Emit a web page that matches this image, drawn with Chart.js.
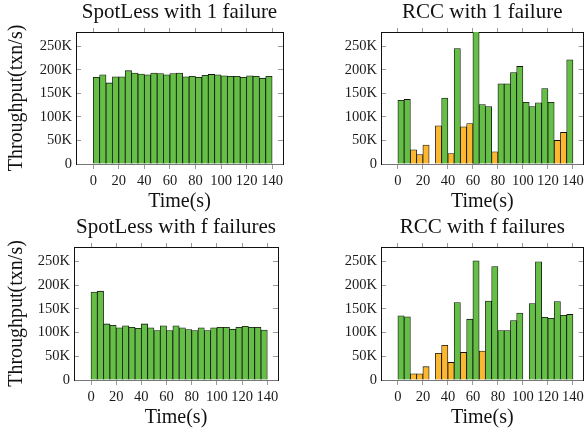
<!DOCTYPE html>
<html>
<head>
<meta charset="utf-8">
<script src="https://cdn.jsdelivr.net/npm/chart.js@4.4.1/dist/chart.umd.min.js"></script>
<style>
  body { margin: 0; background: #fff; width: 587px; height: 434px; overflow: hidden; position: relative; }
  .box { position: absolute; }
</style>
</head>
<body>
<div class="box" style="left:0px;top:0px;width:290px;height:214px"><canvas id="c1"></canvas></div>
<div class="box" style="left:311px;top:0px;width:276px;height:214px"><canvas id="c2"></canvas></div>
<div class="box" style="left:0px;top:215px;width:285px;height:215px"><canvas id="c3"></canvas></div>
<div class="box" style="left:311px;top:215px;width:276px;height:215px"><canvas id="c4"></canvas></div>

<script>
// start of each 5 s bin
const binStart = [0, 5, 10, 15, 20, 25, 30, 35, 40, 45, 50, 55, 60, 65, 70, 75, 80, 85, 90, 95, 100, 105, 110, 115, 120, 125, 130, 135];
const xTicks = [0, 20, 40, 60, 80, 100, 120, 140];
const yTicks = [0, 50, 100, 150, 200, 250];   // thousands of txn/s

// throughput in K txn/s, green = normal, orange = view change
const spot1 = [184, 189, 172, 185, 185, 198, 193, 191, 189, 193, 192, 189, 192, 193, 185, 186, 184, 188, 190, 189, 187, 186, 186, 184, 187, 186, 182, 186];
const rcc1Green = [135, 137, null, null, null, null, null, 140, null, 245, null, null, 300, 126, 122, null, 170, 170, 194, 207, 131, 122, 130, 160, 131, null, null, 221];
const rcc1Orange = [null, null, 30, 20, 40, null, 81, null, 22, null, 79, 86, null, null, null, 26, null, null, null, null, null, null, null, null, null, 50, 67, null];
const spotF = [185, 187, 118, 115, 110, 114, 111, 109, 118, 110, 104, 114, 104, 114, 110, 106, 104, 110, 104, 110, 111, 111, 107, 111, 113, 111, 111, 105];
const rccFGreen = [135, 133, null, null, null, null, null, null, null, 163, null, 128, 251, null, 166, 239, 104, 104, 125, 141, null, 161, 249, 132, 130, 165, 136, 138];
const rccFOrange = [null, null, 13, 13, 28, null, 56, 73, 37, null, 58, null, null, 61, null, null, null, null, null, null, null, null, null, null, null, null, null, null];

const GREEN = '#65be46';
const ORANGE = '#fbb730';
const TICK = '#9a9a9a';

function barSet(vals, color) {
  return {
    data: binStart.map((t, i) => ({ x: t + 2.5, y: vals[i] })),
    backgroundColor: color,
    borderColor: '#111',
    borderWidth: 0.8,
    barPercentage: 1,
    categoryPercentage: 1,
    grouped: false
  };
}

function makePanel(id, title, datasets, yWidth, showYTitle, padRight) {
  const scales = {
    x: {
      type: 'linear', position: 'bottom', min: -13.5, max: 148.5, offset: false,
      afterBuildTicks: s => { s.ticks = xTicks.map(v => ({ value: v })); },
      afterFit: s => { s.height = 50; },
      grid: { offset: false, drawOnChartArea: false, tickLength: 5, color: TICK },
      border: { color: '#777', width: 1 },
      ticks: { font: { family: 'Liberation Serif', size: 14.5 }, color: '#1a1a1a', padding: 3, maxRotation: 0, autoSkip: false, callback: v => String(v) },
      title: { display: true, text: 'Time(s)', color: '#111', font: { family: 'Liberation Serif', size: 20 }, padding: { top: 0, bottom: 0 } }
    },
    x2: {
      type: 'linear', position: 'top', min: -13.5, max: 148.5, offset: false,
      afterBuildTicks: s => { s.ticks = xTicks.map(v => ({ value: v })); },
      afterFit: s => { s.height = 0; },
      grid: { offset: false, drawOnChartArea: false, tickLength: 4, color: TICK },
      border: { color: '#111', width: 1 },
      ticks: { display: false }
    },
    y: {
      type: 'linear', position: 'left', min: 0, max: 280,
      afterBuildTicks: s => { s.ticks = yTicks.map(v => ({ value: v })); },
      afterFit: s => { s.width = yWidth; },
      grid: { drawOnChartArea: false, tickLength: -5, color: TICK },
      border: { color: '#111', width: 1 },
      ticks: { font: { family: 'Liberation Serif', size: 14.5 }, color: '#1a1a1a', padding: 9, callback: v => v === 0 ? '0' : v + 'K' },
      title: { display: showYTitle, text: 'Throughput(txn/s)', color: '#111', font: { family: 'Liberation Serif', size: 20 }, padding: { top: 5, bottom: 0 } }
    },
    y2: {
      type: 'linear', position: 'right', min: 0, max: 280,
      afterBuildTicks: s => { s.ticks = yTicks.map(v => ({ value: v })); },
      afterFit: s => { s.width = 0; },
      grid: { drawOnChartArea: false, tickLength: -5, color: TICK },
      border: { color: '#111', width: 1 },
      ticks: { display: false }
    }
  };
  new Chart(document.getElementById(id), {
    type: 'bar',
    data: { datasets: datasets },
    options: {
      responsive: true,
      animation: false,
      maintainAspectRatio: false,
      layout: { padding: { top: 0, right: padRight, left: 0, bottom: 0 } },
      plugins: {
        legend: { display: false },
        tooltip: { enabled: false },
        title: { display: true, text: title, fullSize: false, color: '#111', font: { family: 'Liberation Serif', size: 21, weight: 'normal' }, padding: { top: 0.3, bottom: 6.5 } }
      },
      scales: scales
    }
  });
}

makePanel('c1', 'SpotLess with 1 failure', [barSet(spot1, GREEN)], 76, true, 7);
makePanel('c2', 'RCC with 1 failure', [barSet(rcc1Green, GREEN), barSet(rcc1Orange, ORANGE)], 70, false, 1);
makePanel('c3', 'SpotLess with f failures', [barSet(spotF, GREEN)], 74, true, 7);
makePanel('c4', 'RCC with f failures', [barSet(rccFGreen, GREEN), barSet(rccFOrange, ORANGE)], 70, false, 1);
</script>
</body>
</html>
